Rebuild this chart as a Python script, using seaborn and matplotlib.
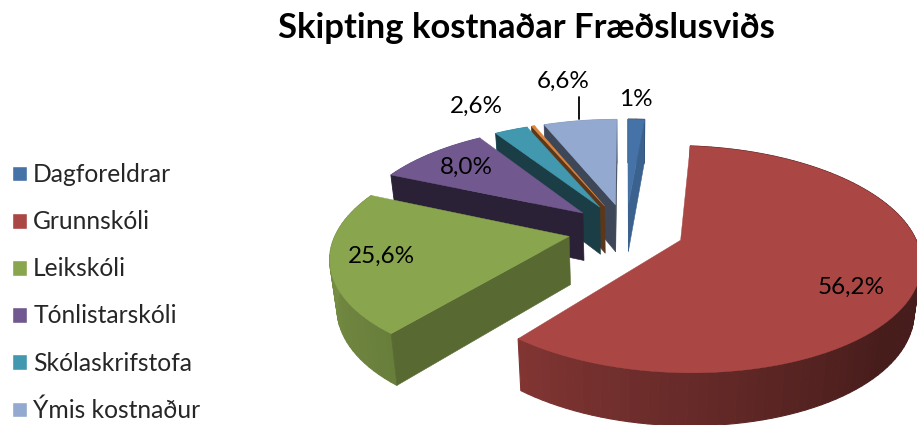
import numpy as np
import seaborn as sns
import matplotlib.pyplot as plt
from matplotlib.patches import Patch

title = "Skipting kostnaðar Fræðslusviðs"
# clockwise from 12 o'clock, the small brown slice has no label or legend entry
slices = ["Dagforeldrar", "Grunnskóli", "Leikskóli", "Tónlistarskóli",
          "Skólaskrifstofa", "", "Ýmis kostnaður"]
values = [1.3, 56.2, 25.6, 8.0, 2.6, 0.3, 6.6]
value_labels = ["1%", "56,2%", "25,6%", "8,0%", "2,6%", "", "6,6%"]
colors = ["#4572A7", "#AA4643", "#89A54E", "#71588F", "#4198AF", "#DB843D", "#93A9CF"]
wall_shade = [0.85, 0.5, 0.64, 0.38, 0.4, 0.42, 0.42]

sns.set_theme(style="white")
plt.rcParams['font.family'] = ['Lato', 'DejaVu Sans']
palette = sns.color_palette(colors)

fig = plt.figure(figsize=(9.17, 4.25), dpi=100)
ax = fig.add_axes([0, 0, 1, 1])
ax.set_xlim(0, 917)
ax.set_ylim(425, 0)
ax.axis('off')

# view of the tilted pie, in pixels of the canvas
cx, cy = 626, 230
rx, ry = 232, 107
persp = 0.165
depth = 48
explode = 0.25


def view_angle(a):
    # the 3d view bends angles a bit away from their true size
    return np.interp(a, [0, 205.7, 297.3, 325.9, 335.2, 336.3, 360],
                     [0, 219, 293.5, 327, 337, 338, 360])


def project(px, py, z=0.0):
    s = 1 / (1 + persp * py)
    x = cx + rx * px * s * (1 - 0.025 * z)
    y = cy - ry * py * s + depth * z * np.sqrt(s)
    return x, y


def area(xs, ys):
    return 0.5 * np.sum(xs * np.roll(ys, -1) - np.roll(xs, -1) * ys)


edges = np.cumsum([0] + values) / np.sum(values) * 360
pieces = []
for i in range(len(values)):
    a0, a1 = view_angle(edges[i]), view_angle(edges[i + 1])
    mid = np.radians((a0 + a1) / 2)
    pieces.append((explode * np.cos(mid), i, a0, a1, mid))

# far slices first
for oy, i, a0, a1, mid in sorted(pieces, reverse=True):
    ox = explode * np.sin(mid)
    col = np.array(palette[i])
    t = np.radians(np.linspace(a0, a1, max(3, int((a1 - a0) / 2))))
    rim_x = ox + np.sin(t)
    rim_y = oy + np.cos(t)

    # round wall, cut in strips for the shading
    for j in range(len(t) - 1):
        deg = np.degrees((t[j] + t[j + 1]) / 2)
        shade = np.interp(deg, [90, 135, 219, 295], [0.4, 0.42, 0.76, 0.93])
        x1, y1 = project(rim_x[j:j + 2], rim_y[j:j + 2])
        x2, y2 = project(rim_x[j:j + 2][::-1], rim_y[j:j + 2][::-1], 1.0)
        ax.fill(np.r_[x1, x2], np.r_[y1, y2], color=col * shade, lw=0.8)

    # straight walls, only when they face the viewer
    for ex, ey, sign in [(rim_x[0], rim_y[0], 1), (rim_x[-1], rim_y[-1], -1)]:
        x1, y1 = project(np.array([ox, ex]), np.array([oy, ey]))
        x2, y2 = project(np.array([ex, ox]), np.array([ey, oy]), 1.0)
        qx, qy = np.r_[x1, x2], np.r_[y1, y2]
        if sign * area(qx, qy) < 0:
            ax.fill(qx, qy, color=col * wall_shade[i], lw=0.4)

    tx, ty = project(np.r_[ox, rim_x], np.r_[oy, rim_y])
    ax.fill(tx, ty, color=col, lw=0.3)

# value labels
label_pos = [(636, 99), (851, 287), (381, 256), (466, 167), (476, 106), None, (563, 81)]
for lab, pos in zip(value_labels, label_pos):
    if lab:
        ax.text(pos[0], pos[1], lab, fontsize=17.5, color='black', ha='center', va='center')
ax.plot([579, 579], [97, 119], color='black', lw=1.3)

ax.text(526, 28, title, fontsize=24.9, fontweight='bold', color='black', ha='center', va='center')

handles = [Patch(facecolor=palette[i]) for i in range(len(values)) if slices[i]]
labels = [s for s in slices if s]
ax.legend(handles, labels, loc='upper left', bbox_to_anchor=(12 / 917, 0.616), frameon=False,
          fontsize=17.7, handlelength=0.61, handleheight=0.61, handletextpad=0.25,
          labelspacing=0.98, borderpad=0, borderaxespad=0)

fig.savefig("out.png", dpi=100)
